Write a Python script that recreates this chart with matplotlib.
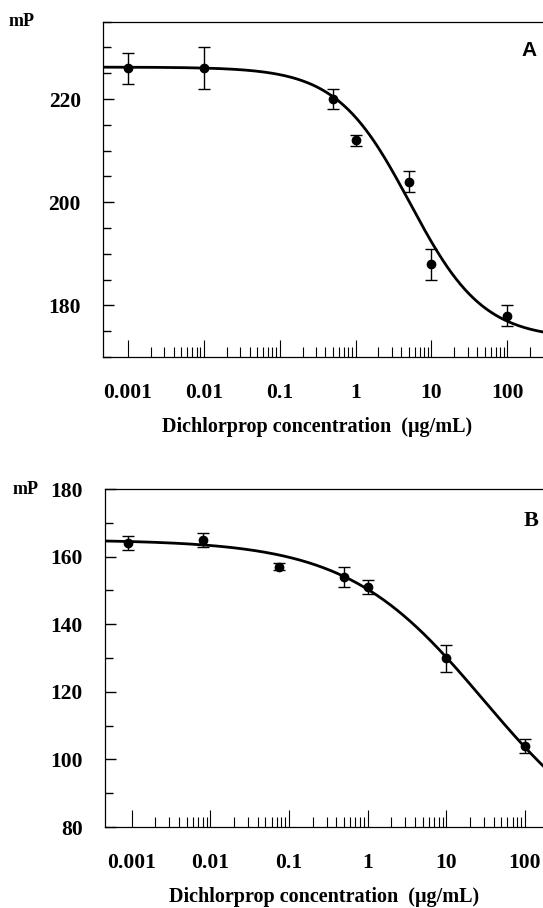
import matplotlib
matplotlib.use("Agg")
import matplotlib.pyplot as plt
import numpy as np
from matplotlib.ticker import FixedLocator, MultipleLocator, NullFormatter

plt.rcParams['font.family'] = ['Liberation Serif', 'DejaVu Serif']
plt.rcParams['font.weight'] = 'bold'

# Panel A data
conc_a = [0.001, 0.01, 0.5, 1, 5, 10, 100]
mp_a = [226, 226, 220, 212, 204, 188, 178]
err_a = [3, 4, 2, 1, 2, 3, 2]
fit_a = (226.2, 173.5, 5.2, 0.9)   # top, bottom, midpoint, slope

# Panel B data
conc_b = [0.0009, 0.008, 0.075, 0.5, 1, 10, 100]
mp_b = [164, 165, 157, 154, 151, 130, 104]
err_b = [2, 2, 1, 3, 2, 4, 2]
fit_b = (165, 70, 30, 0.5)

tick_vals = [0.001, 0.01, 0.1, 1, 10, 100]
tick_labels = ['0.001', '0.01', '0.1', '1', '10', '100']
minor_vals = [m * d for d in tick_vals for m in range(2, 10)]
xlabel = 'Dichlorprop concentration  (\u03bcg/mL)'


def logistic(x, top, bottom, mid, slope):
    return bottom + (top - bottom) / (1 + (x / mid) ** slope)


def draw_panel(ax, conc, mp, err, fit, xlim, ylim, yticks, yminor):
    xs = np.logspace(np.log10(xlim[0]), np.log10(xlim[1]), 400)
    ax.plot(xs, logistic(xs, *fit), color='black', lw=2.0)
    ax.errorbar(conc, mp, yerr=err, fmt='o', color='black', ms=6,
                elinewidth=1.0, capsize=4.5, capthick=1.0)
    ax.set_xscale('log')
    ax.set_xlim(*xlim)
    ax.set_ylim(*ylim)

    ax.xaxis.set_major_locator(FixedLocator(tick_vals))
    ax.set_xticklabels(tick_labels)
    ax.xaxis.set_minor_locator(FixedLocator(minor_vals))
    ax.xaxis.set_minor_formatter(NullFormatter())
    ax.set_yticks(yticks)
    ax.yaxis.set_minor_locator(MultipleLocator(yminor))

    ax.tick_params(axis='x', which='major', direction='in', length=12, width=0.8,
                   pad=19, labelsize=15.5)
    ax.tick_params(axis='x', which='minor', direction='in', length=7, width=0.8)
    ax.tick_params(axis='y', which='major', direction='in', length=8, width=1.0,
                   pad=16, labelsize=15.5)
    ax.tick_params(axis='y', which='minor', direction='in', length=5.5, width=1.0)
    for lab in ax.get_xticklabels() + ax.get_yticklabels():
        lab.set_fontweight('bold')

    ax.spines['right'].set_visible(False)
    for side in ('left', 'bottom', 'top'):
        ax.spines[side].set_linewidth(0.9)


fig = plt.figure(figsize=(5.43, 9.08), dpi=100)

ax_a = fig.add_axes([0.1897, 0.6068, 0.8103, 0.3693])
draw_panel(ax_a, conc_a, mp_a, err_a, fit_a, (10 ** -3.33, 10 ** 2.47), (170, 235),
           [180, 200, 220], 5)
ax_a.text(0.985, 0.915, 'A', transform=ax_a.transAxes, ha='right', va='center',
          fontsize=15, fontweight='bold', family=['Liberation Sans', 'DejaVu Sans'])

ax_b = fig.add_axes([0.1934, 0.0892, 0.8066, 0.3722])
draw_panel(ax_b, conc_b, mp_b, err_b, fit_b, (10 ** -3.34, 10 ** 2.23), (80, 180),
           [80, 100, 120, 140, 160, 180], 10)
ax_b.text(0.99, 0.905, 'B', transform=ax_b.transAxes, ha='right', va='center',
          fontsize=16, fontweight='bold')

fig.text(22 / 543, 1 - 21 / 908, 'mP', ha='center', va='center', fontsize=13, fontweight='bold')
fig.text(26 / 543, 1 - 489 / 908, 'mP', ha='center', va='center', fontsize=13, fontweight='bold')

fig.text(0.584, 1 - 427 / 908, xlabel, ha='center', va='center', fontsize=14.5, fontweight='bold')
fig.text(0.597, 1 - 897 / 908, xlabel, ha='center', va='center', fontsize=14.5, fontweight='bold')

fig.savefig('out.png', dpi=100)
